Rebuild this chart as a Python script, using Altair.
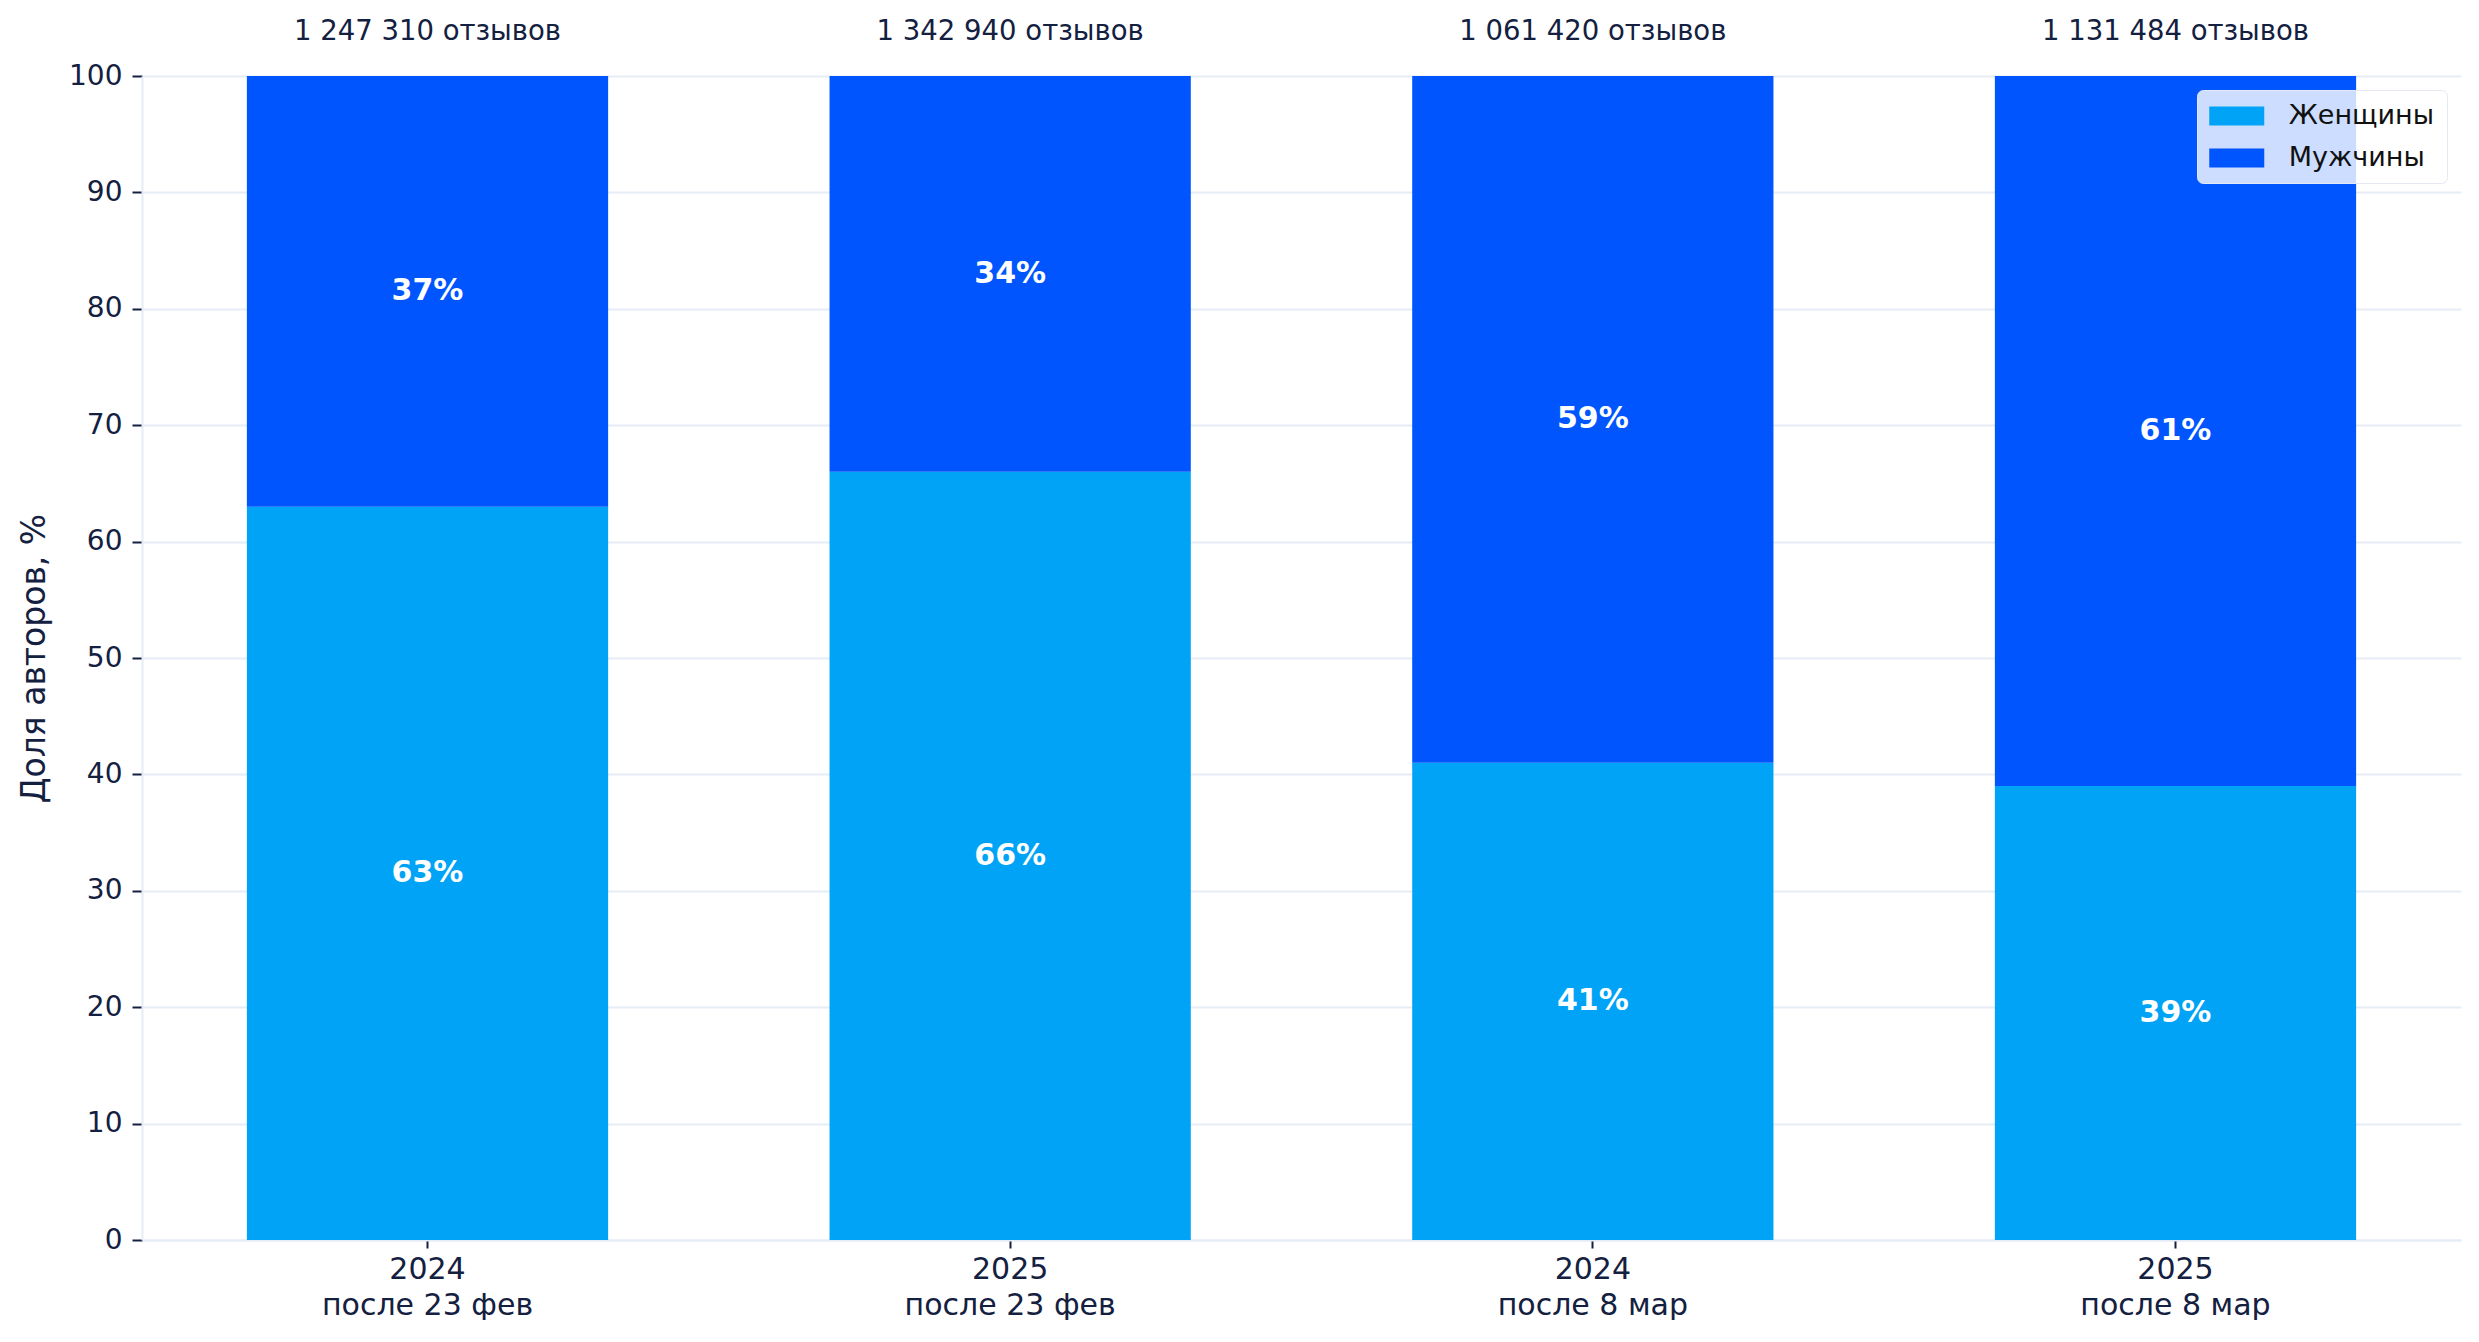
import altair as alt
import pandas as pd

categories = ["2024|после 23 фев", "2025|после 23 фев", "2024|после 8 мар", "2025|после 8 мар"]
groups = ["Женщины", "Мужчины"]
women = [63, 66, 41, 39]
men = [37, 34, 59, 61]
totals = [1247310, 1342940, 1061420, 1131484]
colors = ["#00A3F5", "#0055FF"]

rows = []
for c, w, m in zip(categories, women, men):
    rows.append({"cat": c, "group": groups[0], "value": w, "ord": 0})
    rows.append({"cat": c, "group": groups[1], "value": m, "ord": 1})
df = pd.DataFrame(rows)
tot_df = pd.DataFrame({
    "cat": categories,
    "label": [f"{t:,}".replace(",", " ") + " отзывов" for t in totals],
})

FONT = "DejaVu Sans"
TXT = "#142040"
GRID = "#e6ecf6"
YTITLE = "Доля авторов, %"

x_enc = alt.X(
    "cat:N", sort=categories, title=None,
    scale=alt.Scale(paddingInner=0.38, paddingOuter=0.18),
    axis=alt.Axis(
        labelExpr="split(datum.label, '|')", labelAngle=0, labelFontSize=30,
        labelColor=TXT, labelFont=FONT, labelLineHeight=36, labelPadding=6,
        labelLimit=0,
        tickSize=8, tickWidth=2, tickColor=TXT, domainColor=GRID, domainWidth=2,
        grid=False,
    ),
)

y_axis = alt.Axis(
    values=list(range(0, 101, 10)), title=YTITLE, labelFontSize=28, labelFont=FONT,
    labelColor=TXT, labelPadding=10, tickSize=10, tickWidth=2, tickColor=TXT,
    domainColor=GRID, domainWidth=2, gridColor=GRID, gridWidth=2,
    titleFontSize=33, titleFont=FONT, titleFontWeight="normal", titleColor=TXT,
    titleX=-108, titleY=582, titleBaseline="middle", titleAlign="center",
)

bars = alt.Chart(df).mark_bar().encode(
    x=x_enc,
    y=alt.Y("value:Q", stack="zero", scale=alt.Scale(domain=[0, 100], nice=False), axis=y_axis),
    color=alt.Color(
        "group:N", scale=alt.Scale(domain=groups, range=colors),
        legend=alt.Legend(
            title=None, orient="none", legendX=2055, legendY=14,
            fillColor="rgba(255,255,255,0.8)", strokeColor="#e3e8f2", cornerRadius=6,
            padding=12, symbolType="M-2,-0.69L2,-0.69L2,0.69L-2,0.69Z",
            symbolSize=756.25, symbolStrokeWidth=0, symbolOffset=13.75, labelOffset=38,
            labelFontSize=27, labelFont=FONT, labelColor="#111111", rowPadding=15,
            symbolOpacity=1,
        ),
    ),
    order=alt.Order("ord:Q"),
)

labels = alt.Chart(df).transform_stack(
    stack="value", groupby=["cat"], as_=["y0", "y1"],
    sort=[alt.SortField("ord", order="ascending")],
).transform_calculate(
    mid="(datum.y0 + datum.y1) / 2", txt="datum.value + '%'"
).mark_text(
    font=FONT, fontSize=30, fontWeight="bold", color="white", baseline="middle"
).encode(
    x=alt.X("cat:N", sort=categories),
    y=alt.Y("mid:Q", title=YTITLE),
    text="txt:N",
)

tot = alt.Chart(tot_df).mark_text(
    font=FONT, fontSize=27.5, color=TXT, baseline="middle"
).encode(
    x=alt.X("cat:N", sort=categories),
    y=alt.value(-44),
    text="label:N",
)

chart = alt.layer(bars, labels, tot).properties(
    width=2319, height=1164,
    padding={"left": 134, "top": 68, "right": 10, "bottom": 80},
    autosize=alt.AutoSizeParams(type="none"),
).configure_view(stroke=None)

chart.save("out.html", embed_options={"renderer": "svg", "actions": False})
